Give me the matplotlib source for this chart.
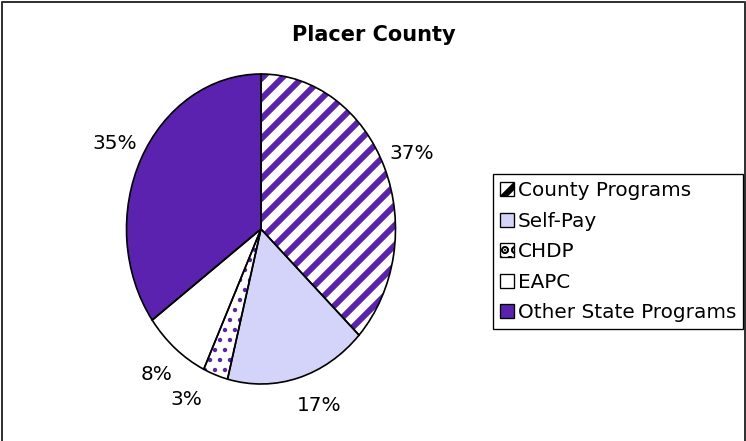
import matplotlib.pyplot as plt
from matplotlib.lines import Line2D

# Placer County payer mix (percent)
categories = ['County Programs', 'Self-Pay', 'CHDP', 'EAPC', 'Other State Programs']
shares = [37, 17, 3, 8, 35]

purple = '#5B22AF'
lavender = '#D4D4FA'
face_colors = ['white', lavender, 'white', 'white', purple]
hatches = ['//', '', '..', '', '']
hatch_lw = [3.6, 1, 1.4, 1, 1]

plt.rcParams['font.family'] = 'DejaVu Sans'
plt.rcParams['hatch.linewidth'] = 3.6

W, H = 746, 441
fig = plt.figure(figsize=(W / 120, H / 120), dpi=120)

# pie sits in an axes that is taller than wide (slightly oval, as in the source)
cx, cy, rx, ry = 261, 229, 134.5, 155
ax = fig.add_axes([(cx - rx) / W, (H - cy - ry) / H, 2 * rx / W, 2 * ry / H])

# layer 1: fills and purple hatching
wedges, texts = ax.pie(shares, colors=face_colors, startangle=90, counterclock=False,
                       radius=1, wedgeprops=dict(linewidth=0, edgecolor=purple))
for w, h, lw in zip(wedges, hatches, hatch_lw):
    w.set_hatch(h)
    if hasattr(w, 'set_hatch_linewidth'):
        w.set_hatch_linewidth(lw)

# layer 2: black outlines and percent labels
_, _, pct = ax.pie(shares, colors=['none'] * 5, startangle=90, counterclock=False,
                   radius=1, autopct='%1.0f%%', pctdistance=1.22,
                   wedgeprops=dict(linewidth=1.0, edgecolor='black'),
                   textprops=dict(fontsize=12, color='black'))
# small nudges so the labels sit where the source puts them
pct[1].set_x(pct[1].get_position()[0] + 0.09)
pct[1].set_y(pct[1].get_position()[1] + 0.03)
pct[2].set_x(pct[2].get_position()[0] - 0.14)
pct[2].set_y(pct[2].get_position()[1] + 0.05)

ax.set_aspect('auto')
ax.set_xlim(-1, 1)
ax.set_ylim(-1, 1)
ax.axis('off')

fig.text(374 / W, 1 - 35 / H, 'Placer County', ha='center', va='center',
         fontsize=12.5, fontweight='bold')

leg = fig.legend(wedges, categories, loc='upper left',
                 bbox_to_anchor=(493 / W, 1 - 174 / H), borderaxespad=0,
                 fontsize=12, frameon=True, fancybox=False, framealpha=1,
                 edgecolor='black', handlelength=0.7, handleheight=0.7,
                 handletextpad=0.2, labelspacing=0.58, borderpad=0.35)
leg.get_frame().set_linewidth(0.8)
for hnd in leg.legend_handles:
    hnd.set_edgecolor('black')
    hnd.set_linewidth(0.8)

# outer chart border (left, top, right)
fig.add_artist(Line2D([1.5 / W, 1.5 / W, 1 - 1.5 / W, 1 - 1.5 / W],
                      [0, 1 - 1.5 / H, 1 - 1.5 / H, 0],
                      color='#333333', linewidth=1.2))

fig.savefig('out.png', dpi=120)
